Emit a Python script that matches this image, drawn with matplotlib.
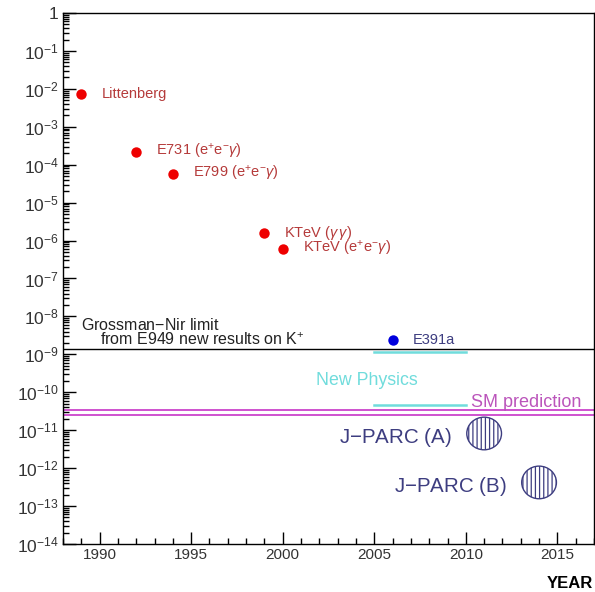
import numpy as np
import matplotlib
matplotlib.use("Agg")
import matplotlib.pyplot as plt
from matplotlib.ticker import LogLocator, FuncFormatter, MultipleLocator
from matplotlib.path import Path

plt.rcParams['font.family'] = ['Liberation Sans', 'DejaVu Sans']
plt.rcParams['mathtext.fontset'] = 'custom'
plt.rcParams['mathtext.rm'] = 'Liberation Sans'
plt.rcParams['mathtext.it'] = 'Liberation Sans:italic'

# measured limits (red) and E391a (blue)
exp_names = ['Littenberg', 'E731 (e$^{+}$e$^{-}$$\\gamma$)', 'E799 (e$^{+}$e$^{-}$$\\gamma$)',
             'KTeV ($\\gamma\\,\\gamma$)', 'KTeV (e$^{+}$e$^{-}$$\\gamma$)']
exp_years = [1989, 1992, 1994, 1999, 2000]
exp_limits = [7.3e-3, 2.2e-4, 5.7e-5, 1.6e-6, 6.0e-7]

e391_year = 2006
e391_limit = 2.4e-9

gn_limit = 1.4e-9
new_phys_years = [2005, 2010]
new_phys_band = [1.15e-9, 4.6e-11]
sm_band = [3.4e-11, 2.5e-11]

jparc_names = ['J$-$PARC (A)', 'J$-$PARC (B)']
jparc_years = [2011, 2014]
jparc_sens = [8.2e-12, 4.2e-13]

red_txt = '#b53a3a'
navy = '#3d3d80'
cyan = '#70dcdc'
magenta = '#cc44cc'

fig = plt.figure(figsize=(5.95, 5.92), dpi=100)
ax = fig.add_axes([63 / 595, 1 - 544 / 592, 531 / 595, 531 / 592])
ax.set_yscale('log')
ax.set_xlim(1988, 2017)
ax.set_ylim(1e-14, 1)

# points
ax.plot(exp_years, exp_limits, 'o', color='#ee0000', markersize=7.5, markeredgewidth=0)
for name, x, y in zip(exp_names, exp_years, exp_limits):
    ax.annotate(name, (x, y), xytext=(20, 0), textcoords='offset pixels',
                va='center', ha='left', fontsize=10.5, color=red_txt)

ax.plot([e391_year], [e391_limit], 'o', color='#0000dd', markersize=7.5, markeredgewidth=0)
ax.annotate('E391a', (e391_year, e391_limit), xytext=(20, 0), textcoords='offset pixels',
            va='center', ha='left', fontsize=10.5, color=navy)

# Grossman-Nir limit
ax.axhline(gn_limit, color='black', lw=1)
ax.text(1989.0, 5.9e-9, 'Grossman$-$Nir limit', fontsize=11.5, va='center', color='#222222')
ax.text(1990.0, 2.4e-9, 'from E949 new results on K$^{+}$', fontsize=11.5, va='center', color='#222222')

# new physics region
for v in new_phys_band:
    ax.plot(new_phys_years, [v, v], color=cyan, lw=1.8)
ax.text(2001.8, 2.1e-10, 'New Physics', fontsize=12.8, va='center', color=cyan)

# SM prediction
for v in sm_band:
    ax.axhline(v, color=magenta, lw=1.3)
ax.text(2010.3, 5.5e-11, 'SM prediction', fontsize=13, va='center', color='#bb55bb')

# J-PARC sensitivities
t = Path.unit_circle()
ell = Path(t.vertices * np.array([1.0, 0.94]), t.codes)
plt.rcParams['hatch.color'] = navy
plt.rcParams['hatch.linewidth'] = 0.9
ax.scatter(jparc_years, jparc_sens, marker=ell, s=25 ** 2, facecolors='none',
           edgecolors=navy, linewidths=1.0, hatch='||||', zorder=3)
for name, x, y in zip(jparc_names, jparc_years, jparc_sens):
    ax.annotate(name, (x, y), xytext=(-32, -4), textcoords='offset pixels',
                va='center', ha='right', fontsize=14.8, color=navy)

# axes styling
ax.yaxis.set_major_locator(LogLocator(base=10, numticks=30))
ax.yaxis.set_minor_locator(LogLocator(base=10, subs=np.arange(2, 10), numticks=30))
ax.yaxis.set_major_formatter(FuncFormatter(
    lambda v, p: '1' if abs(np.log10(v)) < 0.01 else '$10^{%d}$' % round(np.log10(v))))
ax.xaxis.set_major_locator(MultipleLocator(5))
ax.xaxis.set_minor_locator(MultipleLocator(1))
ax.tick_params(which='both', direction='in', top=False, right=False,
               labelsize=11, labelcolor='#333333')
ax.tick_params(axis='y', labelsize=12.5, pad=3)
ax.tick_params(axis='x', pad=3)
ax.tick_params(which='major', length=9, width=1)
ax.tick_params(which='minor', length=4.5, width=1)
for s in ax.spines.values():
    s.set_linewidth(1)

fig.text(593 / 595, 1 - 583 / 592, 'YEAR', ha='right', va='center',
         fontsize=12, fontweight='bold', color='black')

fig.savefig('out.png', dpi=100)
